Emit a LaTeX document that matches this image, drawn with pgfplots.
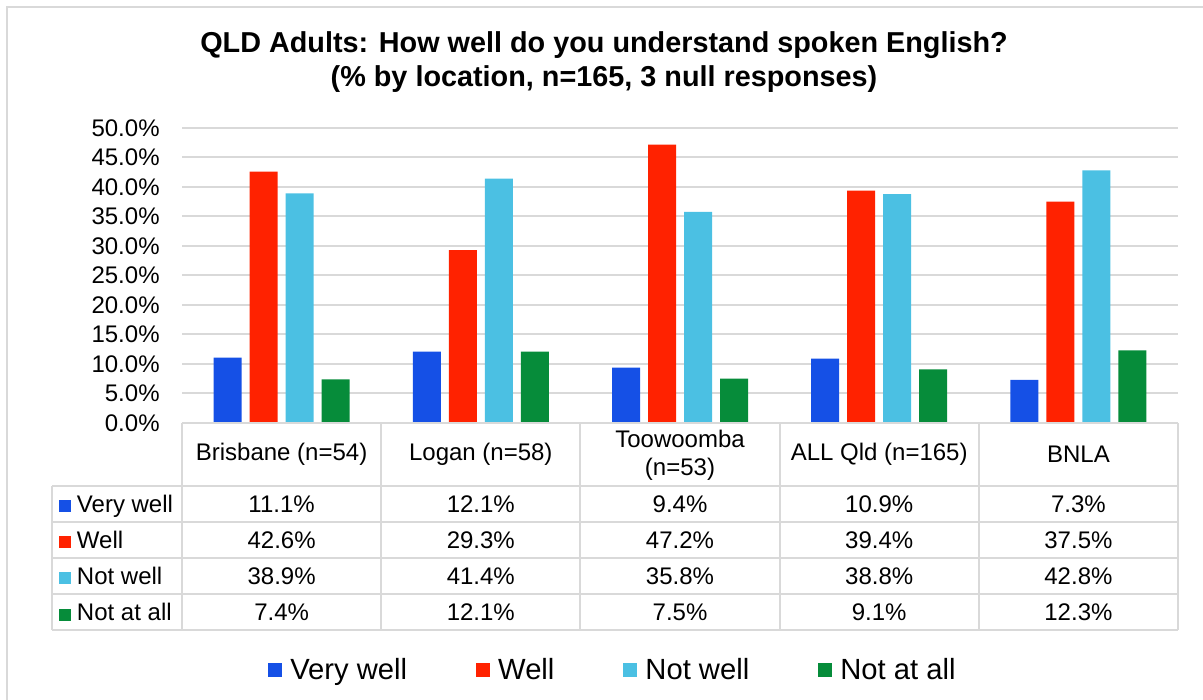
\documentclass[border=0pt]{standalone}
\usepackage{pgfplots}
\pgfplotsset{compat=1.18}
\usepackage{pgfplotstable}
\usepackage{fontspec}
\setmainfont{Liberation Sans}
\definecolor{cVW}{HTML}{1550E6}
\definecolor{cW}{HTML}{FF2200}
\definecolor{cNW}{HTML}{4BC0E3}
\definecolor{cNA}{HTML}{068C3A}
\definecolor{gridc}{HTML}{D9D9D9}
\pgfplotsset{
  sqleg/.style={legend image code/.code={\fill[##1] (0pt,-3.5pt) rectangle (7pt,3.5pt); \path (10pt,0pt);}},
  sqlegs/.style={legend image code/.code={\fill[##1] (0pt,-3pt) rectangle (6pt,3pt); \path (8pt,0pt);}},
}

\pgfplotstableread{
x vw w nw na
0 11.1 42.6 38.9 7.4
1 12.1 29.3 41.4 12.1
2 9.4 47.2 35.8 7.5
3 10.9 39.4 38.8 9.1
4 7.3 37.5 42.8 12.3
}\data

\begin{document}
\begin{tikzpicture}[x=1pt,y=1pt]
\useasboundingbox (0,0) rectangle (601.5,350);
\draw[gridc, line width=1pt] (3.5,-5) -- (3.5,346.5) -- (610,346.5);
\node[font=\fontsize{14.4}{17}\selectfont\bfseries, align=center] at (302,319) {QLD Adults: How well do you understand spoken English?\\(\% by location, n=165, 3 null responses)};

\begin{axis}[
  at={(91pt,138.5pt)}, anchor=south west,
  scale only axis, width=498pt, height=147.5pt,
  xmin=-0.5, xmax=4.5, ymin=0, ymax=50,
  ytick={0,5,...,50}, xtick=\empty,
  ymajorgrids, grid style={gridc, line width=1pt},
  axis line style={draw=none}, major tick length=0pt,
  /pgf/number format/assume math mode=true,
  yticklabel style={font=\fontsize{12}{14}\selectfont, anchor=east, inner sep=0pt, xshift=-11pt},
  yticklabel={\pgfmathprintnumber[fixed,fixed zerofill,precision=1]{\tick}\%},
  ybar, bar width=14pt,
  legend columns=4,
  legend style={at={(axis description cs:0.4327,-0.838)}, anchor=center, draw=none, fill=none,
    font=\fontsize{14.6}{16}\selectfont, nodes={inner sep=1pt},
    /tikz/every even column/.append style={column sep=33.5pt}},
]
\addplot[fill=cVW, draw=none, bar shift=-27pt, sqleg] table[x=x,y=vw]{\data};
\addplot[fill=cW, draw=none, bar shift=-9pt, sqleg] table[x=x,y=w]{\data};
\addplot[fill=cNW, draw=none, bar shift=9pt, sqleg] table[x=x,y=nw]{\data};
\addplot[fill=cNA, draw=none, bar shift=27pt, sqleg] table[x=x,y=na]{\data};
\legend{Very well, Well, Not well, Not at all}
\end{axis}

\begin{axis}[
  at={(91pt,138.5pt)}, anchor=south west,
  scale only axis, width=498pt, height=147.5pt,
  xmin=-0.5, xmax=4.5, ymin=0, ymax=50, hide axis,
  legend columns=1,
  legend style={at={(axis description cs:-0.1235,-0.2373)}, anchor=north west, draw=none, fill=none,
    font=\fontsize{12}{14}\selectfont, row sep=5.1pt, inner sep=0pt, outer sep=0pt,
    nodes={inner sep=1pt, text height=8.6pt, text depth=2.4pt}},
  legend cell align=left,
]
\addlegendimage{fill=cVW, draw=none, sqlegs}
\addlegendentry{Very well}
\addlegendimage{fill=cW, draw=none, sqlegs}
\addlegendentry{Well}
\addlegendimage{fill=cNW, draw=none, sqlegs}
\addlegendentry{Not well}
\addlegendimage{fill=cNA, draw=none, sqlegs}
\addlegendentry{Not at all}
\end{axis}

\begin{scope}[gridc, line width=1pt]
\draw (91,138.5) -- (589,138.5);
\foreach \xx in {91,190.6,290.2,389.8,489.4,589} \draw (\xx,138.5) -- (\xx,35);
\foreach \yy in {107,89,71,53,35} \draw (26,\yy) -- (589,\yy);
\draw (26,107) -- (26,35);
\end{scope}

\begin{scope}[font=\fontsize{12}{14}\selectfont]
\node at (140.8,122.75) {Brisbane (n=54)};
\node at (240.4,122.75) {Logan (n=58)};
\node[align=center] at (340,122.25) {Toowoomba\\(n=53)};
\node at (439.6,122.75) {ALL Qld (n=165)};
\node at (539.2,122.75) {BNLA};
\foreach \cx/\a/\b/\c/\d in {140.8/11.1/42.6/38.9/7.4, 240.4/12.1/29.3/41.4/12.1, 340/9.4/47.2/35.8/7.5, 439.6/10.9/39.4/38.8/9.1, 539.2/7.3/37.5/42.8/12.3} {
  \node at (\cx,98) {\a\%};
  \node at (\cx,80) {\b\%};
  \node at (\cx,62) {\c\%};
  \node at (\cx,44) {\d\%};
}
\end{scope}
\end{tikzpicture}
\end{document}
